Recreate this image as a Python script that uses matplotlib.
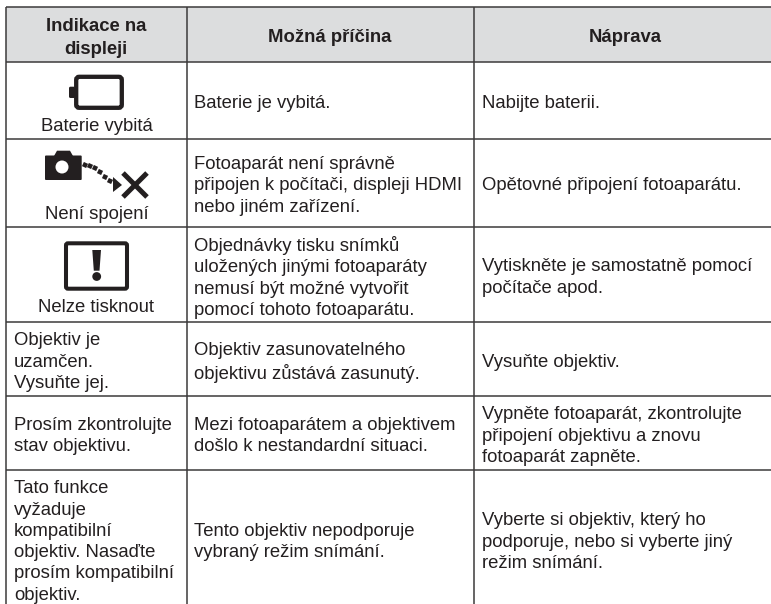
import matplotlib
matplotlib.use("Agg")
import matplotlib.pyplot as plt
from matplotlib.patches import Rectangle, FancyBboxPatch, Circle, Polygon

W, H = 771, 604
col_x = [6, 186.5, 474, 771]
row_y = [7.3, 62.3, 138.7, 226.7, 322, 396, 469.7, 608]

headers = ["Indikace na\ndispleji", "Možná příčina", "Náprava"]
col1 = [("Baterie vybitá", 126.5), ("Není spojení", 214.5), ("Nelze tisknout", 307)]
col1_left = ["Objektiv je\nuzamčen.\nVysuňte jej.",
             "Prosím zkontrolujte\nstav objektivu.",
             "Tato funkce\nvyžaduje\nkompatibilní\nobjektiv. Nasaďte\nprosím kompatibilní\nobjektiv."]
col2 = ["Baterie je vybitá.",
        "Fotoaparát není správně\npřipojen k počítači, displeji HDMI\nnebo jiném zařízení.",
        "Objednávky tisku snímků\nuložených jinými fotoaparáty\nnemusí být možné vytvořit\npomocí tohoto fotoaparátu.",
        "Objektiv zasunovatelného\nobjektivu zůstává zasunutý.",
        "Mezi fotoaparátem a objektivem\ndošlo k nestandardní situaci.",
        "Tento objektiv nepodporuje\nvybraný režim snímání."]
col3 = ["Nabijte baterii.",
        "Opětovné připojení fotoaparátu.",
        "Vytiskněte je samostatně pomocí\npočítače apod.",
        "Vysuňte objektiv.",
        "Vypněte fotoaparát, zkontrolujte\npřipojení objektivu a znovu\nfotoaparát zapněte.",
        "Vyberte si objektiv, který ho\npodporuje, nebo si vyberte jiný\nrežim snímání."]
dot_x = [85, 90, 95, 100, 105, 110]
dot_y = [165, 166, 168, 172, 177, 181]

plt.rcParams['font.family'] = ['Liberation Sans', 'DejaVu Sans']
fig = plt.figure(figsize=(W/100, H/100), dpi=100)
ax = fig.add_axes([0, 0, 1, 1])
ax.set_xlim(0, W); ax.set_ylim(H, 0); ax.axis('off')
INK = '#231f20'
LINE = '#3c3a3b'
FS = 13.3
LS = 1.33
OFF = 3.2

ax.add_patch(Rectangle((col_x[0], row_y[0]), W-col_x[0], row_y[1]-row_y[0], fc='#dcddde', ec='none'))
for x in col_x[:3]:
    ax.plot([x, x], [row_y[0], H], color=LINE, lw=1.1, solid_capstyle='butt')
for y in row_y[:-1]:
    ax.plot([col_x[0], W], [y, y], color=LINE, lw=1.1, solid_capstyle='butt')

header_cx = [96, 330, 625]
for cx, h in zip(header_cx, headers):
    ax.text(cx, (row_y[0]+row_y[1])/2 + OFF, h, ha='center', va='center',
            fontsize=FS, fontweight='bold', color=INK, linespacing=1.42)
for t, y in col1:
    ax.text(96.5, y, t, ha='center', va='center', fontsize=FS, color=INK)
for i, t in enumerate(col1_left):
    ax.text(14, (row_y[i+4]+row_y[i+5])/2 + OFF, t, ha='left', va='center', fontsize=FS, color=INK, linespacing=LS)
for i in range(6):
    cy = (row_y[i+1]+row_y[i+2])/2 + OFF
    ax.text(194, cy, col2[i], ha='left', va='center', fontsize=FS, color=INK, linespacing=LS)
    ax.text(481.7, cy, col3[i], ha='left', va='center', fontsize=FS, color=INK, linespacing=LS)

# Battery icon
ax.add_patch(FancyBboxPatch((76.2, 76.8), 45.6, 31, boxstyle='round,pad=0,rounding_size=3', fc='white', ec=INK, lw=3.1))
ax.add_patch(FancyBboxPatch((69, 86.7), 6, 11.3, boxstyle='round,pad=0,rounding_size=1.5', fc=INK, ec='none'))
# Camera icon
ax.add_patch(FancyBboxPatch((45, 155.5), 36.7, 24.5, boxstyle='round,pad=0,rounding_size=1', fc=INK, ec='none'))
ax.add_patch(Polygon([[54, 156], [57, 150.7], [70, 150.7], [73, 156]], fc=INK, ec='none'))
ax.add_patch(Circle((62, 167), 6.5, fc='white', ec='none'))
for x, y in zip(dot_x, dot_y):
    ax.add_patch(Rectangle((x-2.3, y-2.3), 4.6, 4.6, fc=INK, ec='none', angle=25, rotation_point='center'))
ax.add_patch(Polygon([[113, 177], [122, 185], [113, 192]], fc=INK, ec='none'))
ax.plot([123, 147], [173, 197], color=INK, lw=3.6, solid_capstyle='butt')
ax.plot([147, 123], [173, 197], color=INK, lw=3.6, solid_capstyle='butt')
# Warning icon
ax.add_patch(FancyBboxPatch((66, 243.3), 61, 45.4, boxstyle='round,pad=0,rounding_size=2', fc='white', ec=INK, lw=2.9))
ax.add_patch(Polygon([[92.3, 250], [101, 250], [99.5, 270.7], [93.8, 270.7]], fc=INK, ec='none'))
ax.add_patch(Circle((96.7, 276.5), 4.4, fc=INK, ec='none'))

fig.savefig('out.png', dpi=100)
